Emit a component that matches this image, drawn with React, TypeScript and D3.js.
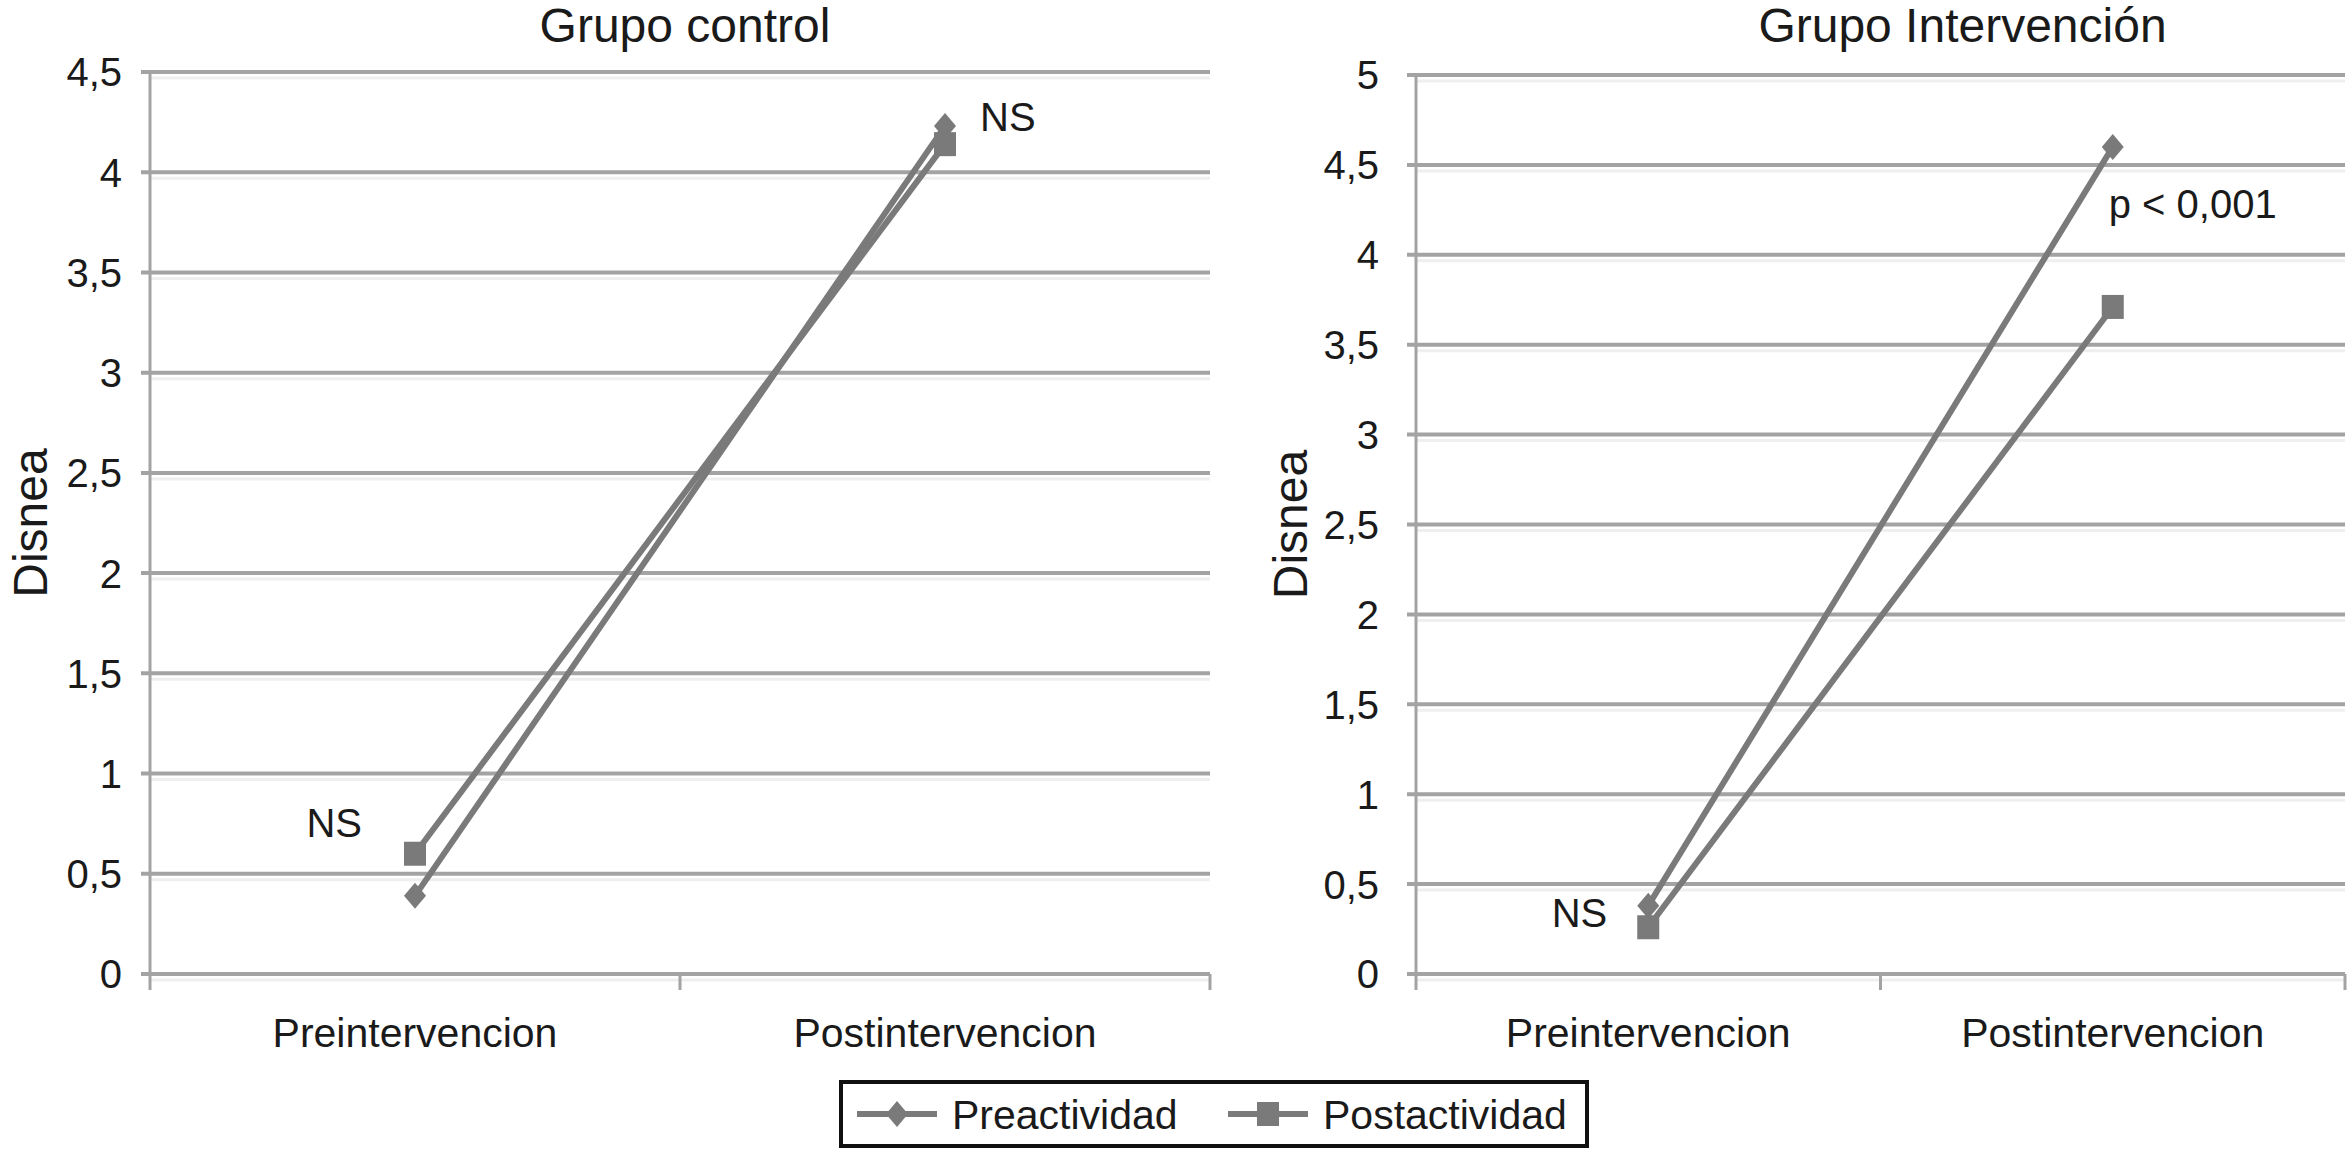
import React, { useEffect, useRef } from 'react';
import * as d3 from 'd3';

const CATEGORIES = ['Preintervencion', 'Postintervencion'];
const SERIES = ['Preactividad', 'Postactividad'] as const;

const CONTROL_TICKS = [0, 0.5, 1, 1.5, 2, 2.5, 3, 3.5, 4, 4.5];
const CONTROL_PRE = [0.39, 4.23];
const CONTROL_POST = [0.6, 4.14];

const INTERV_TICKS = [0, 0.5, 1, 1.5, 2, 2.5, 3, 3.5, 4, 4.5, 5];
const INTERV_PRE = [0.38, 4.6];
const INTERV_POST = [0.26, 3.71];

const W = 2349;
const H = 1150;
const FONT = '"Liberation Sans", Arial, Helvetica, sans-serif';
const LINE = '#7a7a7a';
const GRID = '#a3a3a3';
const TEXT = '#1a1a1a';

const esFormat = d3
  .formatLocale({ decimal: ',', thousands: '.', grouping: [3], currency: ['', ''] })
  .format('.1~f');

interface Note {
  text: string;
  series: number;
  cat: number;
  dx: number;
  dy: number;
  anchor: string;
}

interface Panel {
  title: string;
  titleDx: number;
  x0: number;
  x1: number;
  yTop: number;
  yBottom: number;
  ticks: number[];
  pre: number[];
  post: number[];
  labelGap: number;
  axisTitleX: number;
  notes: Note[];
}

const PANELS: Panel[] = [
  {
    title: 'Grupo control',
    titleDx: 5,
    x0: 150,
    x1: 1210,
    yTop: 72,
    yBottom: 974,
    ticks: CONTROL_TICKS,
    pre: CONTROL_PRE,
    post: CONTROL_POST,
    labelGap: 28,
    axisTitleX: 47,
    notes: [
      { text: 'NS', series: 0, cat: 1, dx: 35, dy: 5, anchor: 'start' },
      { text: 'NS', series: 1, cat: 0, dx: -53, dy: -17, anchor: 'end' },
    ],
  },
  {
    title: 'Grupo Intervención',
    titleDx: 82,
    x0: 1416,
    x1: 2345,
    yTop: 75,
    yBottom: 974,
    ticks: INTERV_TICKS,
    pre: INTERV_PRE,
    post: INTERV_POST,
    labelGap: 37,
    axisTitleX: 1307,
    notes: [
      { text: 'p < 0,001', series: 0, cat: 1, dx: -4, dy: 71, anchor: 'start' },
      { text: 'NS', series: 1, cat: 0, dx: -41, dy: 0, anchor: 'end' },
    ],
  },
];

const diamond = (cx: number, cy: number) =>
  `M${cx},${cy - 13}L${cx + 11},${cy}L${cx},${cy + 13}L${cx - 11},${cy}Z`;

const App: React.FC = () => {
  const svgRef = useRef<SVGSVGElement>(null);

  useEffect(() => {
    if (!svgRef.current) return;
    const svg = d3.select(svgRef.current);
    svg.selectAll('*').remove();

    svg.append('rect').attr('width', W).attr('height', H).attr('fill', '#fff');

    const drawMarker = (
      g: d3.Selection<SVGGElement, unknown, null, undefined>,
      kind: number,
      cx: number,
      cy: number
    ) => {
      if (kind === 0) {
        g.append('path').attr('d', diamond(cx, cy)).attr('fill', LINE);
      } else {
        g.append('rect')
          .attr('x', cx - 11)
          .attr('y', cy - 12)
          .attr('width', 22)
          .attr('height', 24)
          .attr('fill', LINE);
      }
    };

    for (const p of PANELS) {
      const g = svg.append('g');
      const maxV = p.ticks[p.ticks.length - 1];
      const y = d3.scaleLinear().domain([0, maxV]).range([p.yBottom, p.yTop]);
      const band = d3.scaleBand().domain(CATEGORIES).range([p.x0, p.x1]).padding(0);
      const cx = (c: string) => (band(c) ?? 0) + band.bandwidth() / 2;

      // gridlines with faint shadow
      for (const t of p.ticks) {
        g.append('line')
          .attr('x1', p.x0)
          .attr('x2', p.x1)
          .attr('y1', y(t) + 6)
          .attr('y2', y(t) + 6)
          .attr('stroke', '#efefef')
          .attr('stroke-width', 3);
        g.append('line')
          .attr('x1', p.x0 - 9)
          .attr('x2', p.x1)
          .attr('y1', y(t))
          .attr('y2', y(t))
          .attr('stroke', GRID)
          .attr('stroke-width', 4);
        g.append('text')
          .attr('x', p.x0 - p.labelGap)
          .attr('y', y(t))
          .attr('dy', '0.36em')
          .attr('text-anchor', 'end')
          .attr('font-family', FONT)
          .attr('font-size', 40)
          .attr('fill', TEXT)
          .text(esFormat(t));
      }

      // y axis
      g.append('line')
        .attr('x1', p.x0)
        .attr('x2', p.x0)
        .attr('y1', y(maxV))
        .attr('y2', p.yBottom + 16)
        .attr('stroke', GRID)
        .attr('stroke-width', 3);

      // x axis ticks at category boundaries
      const bounds = [...CATEGORIES.map((c) => band(c) ?? 0), p.x1];
      for (const b of bounds.slice(1)) {
        g.append('line')
          .attr('x1', b)
          .attr('x2', b)
          .attr('y1', p.yBottom)
          .attr('y2', p.yBottom + 16)
          .attr('stroke', GRID)
          .attr('stroke-width', 3);
      }

      CATEGORIES.forEach((c) => {
        g.append('text')
          .attr('x', cx(c))
          .attr('y', p.yBottom + 73)
          .attr('text-anchor', 'middle')
          .attr('font-family', FONT)
          .attr('font-size', 41)
          .attr('fill', TEXT)
          .text(c);
      });

      // titles
      g.append('text')
        .attr('x', (p.x0 + p.x1) / 2 + p.titleDx)
        .attr('y', 42)
        .attr('text-anchor', 'middle')
        .attr('font-family', FONT)
        .attr('font-size', 48)
        .attr('fill', TEXT)
        .text(p.title);

      g.append('text')
        .attr('transform', `translate(${p.axisTitleX},${(p.yTop + p.yBottom) / 2}) rotate(-90)`)
        .attr('text-anchor', 'middle')
        .attr('font-family', FONT)
        .attr('font-size', 48)
        .attr('fill', TEXT)
        .text('Disnea');

      // series
      const series = [p.pre, p.post];
      const line = d3
        .line<number>()
        .x((_, i) => cx(CATEGORIES[i]))
        .y((v) => y(v));
      series.forEach((vals) => {
        g.append('path')
          .attr('d', line(vals) ?? '')
          .attr('fill', 'none')
          .attr('stroke', LINE)
          .attr('stroke-width', 6);
      });
      series.forEach((vals, s) => {
        vals.forEach((v, i) => drawMarker(g, s, cx(CATEGORIES[i]), y(v)));
      });

      for (const n of p.notes) {
        const v = series[n.series][n.cat];
        g.append('text')
          .attr('x', cx(CATEGORIES[n.cat]) + n.dx)
          .attr('y', y(v) + n.dy)
          .attr('text-anchor', n.anchor)
          .attr('font-family', FONT)
          .attr('font-size', 40)
          .attr('fill', TEXT)
          .text(n.text);
      }
    }

    // legend
    const lg = svg.append('g');
    lg.append('rect')
      .attr('x', 841)
      .attr('y', 1082)
      .attr('width', 746)
      .attr('height', 64)
      .attr('fill', '#fff')
      .attr('stroke', '#111')
      .attr('stroke-width', 4);
    const items = [
      { name: SERIES[0], x: 857 },
      { name: SERIES[1], x: 1228 },
    ];
    items.forEach((it, s) => {
      lg.append('line')
        .attr('x1', it.x)
        .attr('x2', it.x + 80)
        .attr('y1', 1114)
        .attr('y2', 1114)
        .attr('stroke', LINE)
        .attr('stroke-width', 6);
      drawMarker(lg as any, s, it.x + 40, 1114);
      lg.append('text')
        .attr('x', it.x + 95)
        .attr('y', 1129)
        .attr('font-family', FONT)
        .attr('font-size', 41)
        .attr('fill', TEXT)
        .text(it.name);
    });
  }, []);

  return (
    <svg
      ref={svgRef}
      width={W}
      height={H}
      style={{ position: 'absolute', left: 0, top: 0, display: 'block' }}
      role="img"
      aria-label="Disnea en grupo control y grupo intervención"
    />
  );
};

export default App;
